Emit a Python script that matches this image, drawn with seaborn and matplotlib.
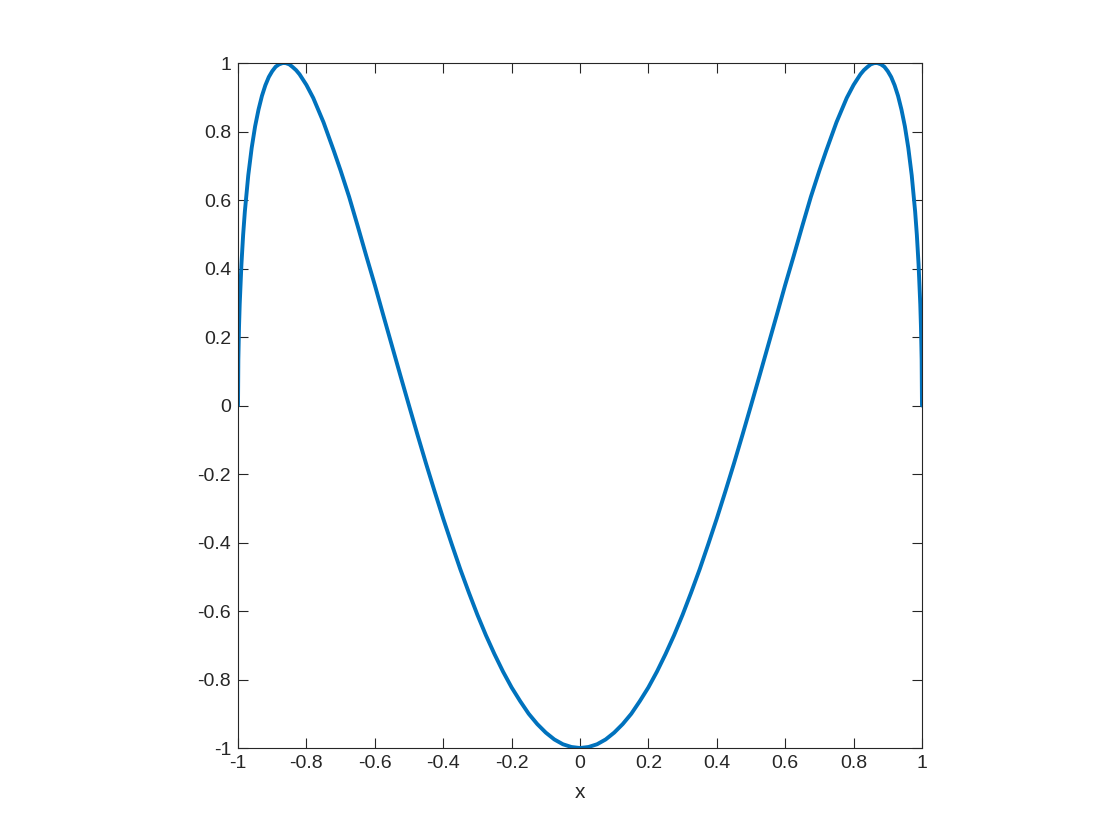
import matplotlib
matplotlib.use('Agg')
import matplotlib.pyplot as plt
import numpy as np
import seaborn as sns
import pandas as pd

sns.set_theme(style='white')
plt.rcParams['font.family'] = ['Liberation Sans', 'DejaVu Sans']

# curve values (left half, curve is symmetric about x=0)
x_left = [-1.0, -0.999, -0.997, -0.995, -0.99, -0.985, -0.98, -0.97, -0.96, -0.95,
          -0.94, -0.93, -0.92, -0.91, -0.9, -0.89, -0.88, -0.87, -0.866, -0.86,
          -0.85, -0.84, -0.83, -0.82, -0.8, -0.78, -0.75, -0.72, -0.7, -0.675,
          -0.65, -0.625, -0.6, -0.575, -0.55, -0.525, -0.5, -0.475, -0.45, -0.425,
          -0.4, -0.375, -0.35, -0.325, -0.3, -0.275, -0.25, -0.225, -0.2, -0.175,
          -0.15, -0.125, -0.1, -0.075, -0.05, -0.025, 0.0]
y_left = [0.0, 0.134, 0.230, 0.296, 0.412, 0.498, 0.566, 0.672, 0.752, 0.815,
          0.864, 0.904, 0.935, 0.959, 0.976, 0.989, 0.996, 0.9997, 1.0, 0.9996,
          0.996, 0.988, 0.979, 0.967, 0.936, 0.898, 0.827, 0.744, 0.686, 0.609,
          0.524, 0.437, 0.352, 0.263, 0.175, 0.087, 0.0, -0.086, -0.170, -0.251,
          -0.330, -0.405, -0.478, -0.546, -0.611, -0.671, -0.726, -0.777, -0.823, -0.863,
          -0.900, -0.930, -0.955, -0.975, -0.989, -0.997, -1.0]

x_vals = x_left + [-v for v in x_left[-2::-1]]
y_vals = y_left + y_left[-2::-1]
data = pd.DataFrame({'x': x_vals, 'y': y_vals})

fig = plt.figure(figsize=(11.2, 8.4), dpi=100)
ax = fig.add_axes([0.2125, 0.1095, 0.6107, 0.8155])
sns.lineplot(data=data, x='x', y='y', sort=False, color='#0072BD', linewidth=2.8, ax=ax)

ax.set_xlim(-1, 1)
ax.set_ylim(-1, 1)
xt = np.round(np.arange(-1, 1.01, 0.2), 1)
ax.set_xticks(xt)
ax.set_yticks(xt)
lab = ['0' if abs(v) < 1e-9 else ('%g' % v) for v in xt]
ax.set_xticklabels(lab)
ax.set_yticklabels(lab)
ax.set_xlabel('x', fontsize=15, color='#262626', labelpad=8)
ax.set_ylabel('')
ax.tick_params(direction='in', length=7, width=0.8, colors='#262626',
               labelsize=14, top=True, right=True, bottom=True, left=True, pad=5)
for s in ax.spines.values():
    s.set_color('#262626')
    s.set_linewidth(0.8)
ax.grid(False)

fig.savefig('out.png', dpi=100)
